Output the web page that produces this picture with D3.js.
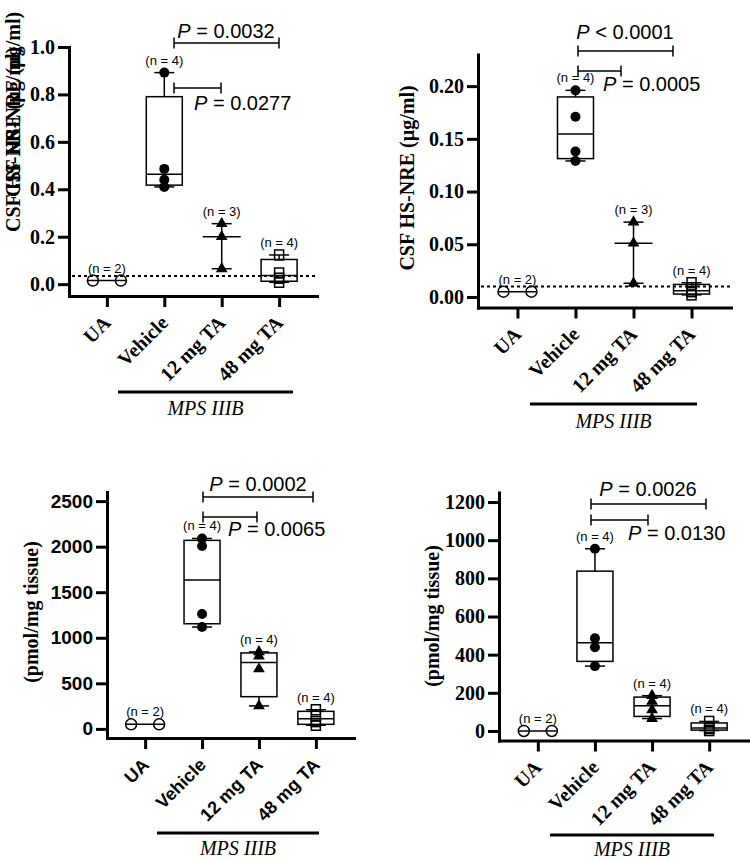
<!DOCTYPE html>
<html><head><meta charset="utf-8">
<script src="https://cdn.jsdelivr.net/npm/d3@7"></script>
<style>body{margin:0;background:#fff}svg{display:block}</style>
</head><body>
<svg id="chart" width="750" height="861"></svg>
<script>
// ---------------- DATA ----------------
const categories = ["UA", "Vehicle", "12 mg TA", "48 mg TA"];
const groupLabel = "MPS IIIB";

// Panel A – CSF HS-NRE (µg/ml)
const aUA      = [0.015, 0.015];
const aVehicle = [0.41, 0.44, 0.486, 0.892];
const a12mg    = [0.065, 0.2, 0.255];
const a48mg    = [0.008, 0.025, 0.047, 0.123];
const aTicks   = [0, 0.2, 0.4, 0.6, 0.8, 1.0];
const aLimit   = 0.034;
const aP       = [["=", "0.0032"], ["=", "0.0277"]];

// Panel B – CSF HS-NRE (µg/ml)
const bUA      = [0.005, 0.005];
const bVehicle = [0.129, 0.138, 0.171, 0.196];
const b12mg    = [0.013, 0.051, 0.071];
const b48mg    = [0.002, 0.005, 0.007, 0.0135];
const bTicks   = [0, 0.05, 0.10, 0.15, 0.20];
const bLimit   = 0.01;
const bP       = [["<", "0.0001"], ["=", "0.0005"]];

// Panel C – (pmol/mg tissue)
const cUA      = [50, 50];
const cVehicle = [1118, 1261, 2007, 2090];
const c12mg    = [252, 658, 800, 845];
const c48mg    = [40, 80, 140, 210];
const cTicks   = [0, 500, 1000, 1500, 2000, 2500];
const cP       = [["=", "0.0002"], ["=", "0.0065"]];

// Panel D – (pmol/mg tissue)
const dUA      = [0, 0];
const dVehicle = [340, 439, 486, 955];
const d12mg    = [65, 110, 155, 185];
const d48mg    = [2, 12, 18, 50];
const dTicks   = [0, 200, 400, 600, 800, 1000, 1200];
const dP       = [["=", "0.0026"], ["=", "0.0130"]];

const yLabelCSF = "CSF HS-NRE (µg/ml)";
const yLabelTissue = "(pmol/mg tissue)";

// ---------------- LAYOUT ----------------
const SERIF = "'Liberation Serif','Times New Roman',serif";
const SANS = "'Liberation Sans',Arial,sans-serif";

const panels = [
  { groups: [aUA, aVehicle, a12mg, a48mg], ticks: aTicks, fmt: ".1f", limit: aLimit, p: aP,
    domain: [-0.05, 1.0], left: 69, right: 317, top: 47, bottom: 296, pad: 0.66,
    tickFont: SERIF, tickSize: 20, catFont: SERIF, catSize: 20,
    yLabel: yLabelCSF, yLabelX: 20, yLabelMode: "garbled",
    mps: { x1: 118, x2: 293, y: 392, dy: 23 },
    br: [ { x1: 174, x2: 279, y: 43, tx: 226, ty: 38, anchor: "middle" },
          { x1: 174, x2: 221, y: 88, tx: 194, ty: 110, anchor: "start" } ] },
  { groups: [bUA, bVehicle, b12mg, b48mg], ticks: bTicks, fmt: ".2f", limit: bLimit, p: bP,
    domain: [-0.01, 0.23], left: 478, right: 731, top: 54.5, bottom: 307.5, pad: 0.68,
    tickFont: SERIF, tickSize: 20, catFont: SERIF, catSize: 20,
    yLabel: yLabelCSF, yLabelX: 414, yLabelY: 178,
    mps: { x1: 530, x2: 697, y: 404, dy: 24 },
    br: [ { x1: 578, x2: 673, y: 51, tx: 625, ty: 39, anchor: "middle" },
          { x1: 578, x2: 621, y: 71, tx: 603, ty: 91, anchor: "start" } ] },
  { groups: [cUA, cVehicle, c12mg, c48mg], ticks: cTicks, fmt: "d", limit: null, p: cP,
    domain: [-100, 2600], left: 107, right: 354, top: 492, bottom: 738, pad: 0.67,
    tickFont: SANS, tickSize: 19, catFont: SANS, catSize: 18,
    yLabel: yLabelTissue, yLabelX: 38, yLabelY: 612,
    mps: { x1: 157, x2: 319, y: 833, dy: 22 },
    br: [ { x1: 203, x2: 313, y: 497, tx: 258, ty: 491, anchor: "middle" },
          { x1: 203, x2: 257, y: 517, tx: 228, ty: 536, anchor: "start" } ] },
  { groups: [dUA, dVehicle, d12mg, d48mg], ticks: dTicks, fmt: "d", limit: null, p: dP,
    domain: [-50, 1250], left: 499, right: 748, top: 492.5, bottom: 740.5, pad: 0.68,
    tickFont: SERIF, tickSize: 20, catFont: SERIF, catSize: 20,
    yLabel: yLabelTissue, yLabelX: 439, yLabelY: 616,
    mps: { x1: 550, x2: 714, y: 835, dy: 21 },
    br: [ { x1: 591, x2: 706, y: 504, tx: 648, ty: 496, anchor: "middle" },
          { x1: 591, x2: 648, y: 520, tx: 628, ty: 540, anchor: "start" } ] }
];

const markers = ["openCircle", "filledCircle", "filledTriangle", "openSquare"];

// GraphPad-style quartiles ((n+1)p method)
function quart(s, p) {
  const pos = (s.length + 1) * p;
  const lo = Math.floor(pos), f = pos - lo;
  if (lo < 1) return s[0];
  if (lo >= s.length) return s[s.length - 1];
  return s[lo - 1] + f * (s[lo] - s[lo - 1]);
}

const svg = d3.select("#chart");

panels.forEach(P => {
  const g = svg.append("g");
  const y = d3.scaleLinear().domain(P.domain).range([P.bottom, P.top]);
  const x = d3.scalePoint().domain(categories).range([P.left, P.right]).padding(P.pad);

  // Y axis
  const ya = g.append("g").attr("transform", `translate(${P.left},0)`)
    .call(d3.axisLeft(y).tickValues(P.ticks).tickSize(11).tickPadding(3).tickSizeOuter(0)
      .tickFormat(d3.format(P.fmt)));
  ya.select(".domain").attr("stroke-width", 3).attr("stroke-linecap", "square");
  ya.selectAll(".tick line").attr("stroke-width", 3);
  ya.selectAll(".tick text").attr("font-family", P.tickFont).attr("font-size", P.tickSize)
    .attr("font-weight", "bold").attr("fill", "#000");

  // X axis
  const xa = g.append("g").attr("transform", `translate(0,${P.bottom})`)
    .call(d3.axisBottom(x).tickSize(11).tickSizeOuter(0));
  xa.select(".domain").attr("stroke-width", 3).attr("stroke-linecap", "square");
  xa.selectAll(".tick line").attr("stroke-width", 3);
  xa.selectAll(".tick text").remove();
  categories.forEach(c => {
    g.append("text")
      .attr("transform", `translate(${x(c) + 5},${P.bottom + 28}) rotate(-45)`)
      .attr("text-anchor", "end")
      .attr("font-family", P.catFont).attr("font-size", P.catSize).attr("font-weight", "bold")
      .text(c);
  });

  // MPS IIIB group line
  g.append("line").attr("x1", P.mps.x1).attr("x2", P.mps.x2).attr("y1", P.mps.y).attr("y2", P.mps.y)
    .attr("stroke", "#000").attr("stroke-width", 3);
  g.append("text").attr("x", (P.mps.x1 + P.mps.x2) / 2).attr("y", P.mps.y + P.mps.dy)
    .attr("text-anchor", "middle").attr("font-family", SERIF).attr("font-style", "italic")
    .attr("font-size", 20).text(groupLabel);

  // Y label
  if (P.yLabelMode === "garbled") {
    [232, 197].forEach(sy => {
      g.append("text").attr("transform", `translate(${P.yLabelX},${sy}) rotate(-90)`)
        .attr("text-anchor", "start").attr("font-family", SERIF).attr("font-weight", "bold")
        .attr("font-size", 20).text(P.yLabel);
    });
  } else {
    g.append("text").attr("transform", `translate(${P.yLabelX},${P.yLabelY}) rotate(-90)`)
      .attr("text-anchor", "middle").attr("font-family", SERIF).attr("font-weight", "bold")
      .attr("font-size", 20).text(P.yLabel);
  }

  // Limit (dotted) line
  if (P.limit !== null) {
    g.append("line").attr("x1", P.left + 3).attr("x2", P.right).attr("y1", y(P.limit)).attr("y2", y(P.limit))
      .attr("stroke", "#000").attr("stroke-width", 2).attr("stroke-dasharray", "3,3");
  }

  // Boxes / ranges
  P.groups.forEach((vals, i) => {
    const cx = x(categories[i]);
    const s = vals.slice().sort((a, b) => a - b);
    const n = s.length;
    const mn = s[0], mx = s[n - 1], med = d3.median(s);
    const line = (x1, x2, y1, y2) => g.append("line").attr("x1", x1).attr("x2", x2).attr("y1", y1).attr("y2", y2)
      .attr("stroke", "#000").attr("stroke-width", 1.5);
    if (n >= 4) {
      const q1 = quart(s, 0.25), q3 = quart(s, 0.75);
      g.append("rect").attr("x", cx - 18).attr("width", 36).attr("y", y(q3)).attr("height", y(q1) - y(q3))
        .attr("fill", "none").attr("stroke", "#000").attr("stroke-width", 1.5);
      line(cx - 18, cx + 18, y(med), y(med));
      line(cx, cx, y(q3), y(mx)); line(cx - 10, cx + 10, y(mx), y(mx));
      line(cx, cx, y(q1), y(mn)); line(cx - 10, cx + 10, y(mn), y(mn));
    } else if (n === 3) {
      line(cx, cx, y(mn), y(mx));
      line(cx - 10, cx + 10, y(mx), y(mx));
      line(cx - 10, cx + 10, y(mn), y(mn));
      line(cx - 19, cx + 19, y(med), y(med));
    } else {
      line(cx - 19, cx + 19, y(med), y(med));
    }

    // points, spread horizontally when values coincide
    const counts = d3.rollup(vals, v => v.length, d => d);
    const seen = new Map();
    vals.forEach(v => {
      const k = counts.get(v), idx = seen.get(v) || 0; seen.set(v, idx + 1);
      const off = k > 1 ? (idx - (k - 1) / 2) * 28 : 0;
      const px = cx + off, py = y(v);
      const m = markers[i];
      if (m === "openCircle") {
        g.append("circle").attr("cx", px).attr("cy", py).attr("r", 5.5)
          .attr("fill", "none").attr("stroke", "#000").attr("stroke-width", 1.5);
      } else if (m === "filledCircle") {
        g.append("circle").attr("cx", px).attr("cy", py).attr("r", 5).attr("fill", "#000");
      } else if (m === "filledTriangle") {
        g.append("path").attr("d", d3.symbol(d3.symbolTriangle, 60)())
          .attr("transform", `translate(${px},${py})`).attr("fill", "#000");
      } else {
        g.append("rect").attr("x", px - 4.5).attr("y", py - 5).attr("width", 9).attr("height", 10)
          .attr("fill", "none").attr("stroke", "#000").attr("stroke-width", 1.5);
      }
    });

    g.append("text").attr("x", cx).attr("y", y(mx) - 8).attr("text-anchor", "middle")
      .attr("font-family", SANS).attr("font-size", 13).text(`(n = ${n})`);
  });

  // P-value brackets
  P.br.forEach((b, j) => {
    const bl = (x1, x2, y1, y2) => g.append("line").attr("x1", x1).attr("x2", x2).attr("y1", y1).attr("y2", y2)
      .attr("stroke", "#000").attr("stroke-width", 1.5);
    bl(b.x1, b.x2, b.y, b.y);
    bl(b.x1, b.x1, b.y - 5.5, b.y + 5.5);
    bl(b.x2, b.x2, b.y - 5.5, b.y + 5.5);
    const t = g.append("text").attr("x", b.tx).attr("y", b.ty).attr("text-anchor", b.anchor)
      .attr("font-family", SANS).attr("font-size", 20);
    t.append("tspan").attr("font-style", "italic").text("P");
    t.append("tspan").text(` ${P.p[j][0]} ${P.p[j][1]}`);
  });
});
</script>
</body></html>
